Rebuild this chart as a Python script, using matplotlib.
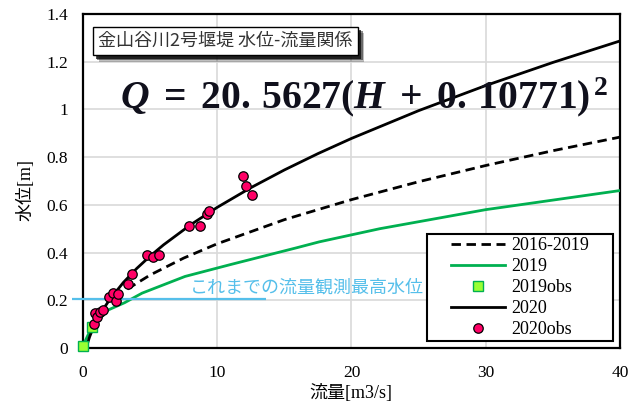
import numpy as np
import matplotlib
matplotlib.use("Agg")
import matplotlib.pyplot as plt
from matplotlib import patheffects as pe
from matplotlib.patches import Rectangle

# Rating-curve coefficients for 2020: Q = a (H + b)^2
coef_a = 20.5627
coef_b = 0.10771

# 2020 rating curve, sampled at these discharges [m3/s]
q_2020 = [0.2386, 0.3, 0.5, 0.75, 1.0, 1.5, 2.0, 3.0, 4.0, 5.0, 6.0, 8.0,
          10.0, 12.5, 15.0, 17.5, 20.0, 25.0, 30.0, 35.0, 40.0]

# 2016-2019 rating curve
q_1619 = [3.3, 5.0, 7.5, 10.0, 15.0, 20.0, 25.0, 30.0, 35.0, 40.0]
h_1619 = [0.247, 0.306, 0.377, 0.437, 0.538, 0.622, 0.697, 0.765, 0.827, 0.884]

# 2019 rating curve
q_2019 = [0.0, 0.67, 1.0, 1.9, 3.1, 4.4, 7.6, 11.0, 15.9, 17.6, 22.1, 30.0, 40.0]
h_2019 = [0.01, 0.09, 0.11, 0.16, 0.19, 0.23, 0.30, 0.35, 0.42, 0.445, 0.50, 0.58, 0.66]

# 2019 observations
q_obs19 = [0.0, 0.7]
h_obs19 = [0.01, 0.09]

# 2020 observations
q_obs20 = [0.80, 0.92, 1.02, 1.25, 1.50, 1.90, 2.25, 2.45, 2.60, 3.33, 3.67,
           4.74, 5.20, 5.67, 7.92, 8.71, 9.25, 9.40, 11.94, 12.11, 12.56]
h_obs20 = [0.100, 0.145, 0.130, 0.150, 0.160, 0.215, 0.230, 0.195, 0.225, 0.270, 0.310,
           0.390, 0.383, 0.388, 0.513, 0.513, 0.563, 0.573, 0.723, 0.680, 0.643]

# Highest water level observed so far
max_obs_level = 0.207
max_obs_label = "これまでの流量観測最高水位"

legend_labels = ["2016-2019", "2019", "2019obs", "2020", "2020obs"]
title_text = "金山谷川2号堰堤 水位-流量関係"

x_ticks = [0, 10, 20, 30, 40]
y_ticks = [0, 0.2, 0.4, 0.6, 0.8, 1.0, 1.2, 1.4]
y_tick_labels = ["0", "0.2", "0.4", "0.6", "0.8", "1", "1.2", "1.4"]

plt.rcParams["mathtext.fontset"] = "custom"
plt.rcParams["mathtext.rm"] = "Liberation Serif:bold"
plt.rcParams["mathtext.it"] = "Liberation Serif:bold:italic"
plt.rcParams["mathtext.bf"] = "Liberation Serif:bold"

serif_cjk = ["Liberation Serif", "Noto Sans CJK JP"]
sans_cjk = ["Noto Sans CJK JP", "DejaVu Sans"]

fig = plt.figure(figsize=(6.42, 4.05), dpi=100)
ax = fig.add_axes([0.1293, 0.1407, 0.8364, 0.8247])

h_2020 = np.sqrt(np.array(q_2020) / coef_a) - coef_b

green = "#00B050"
ax.plot(q_1619, h_1619, color="black", lw=2.0, ls=(0, (3.4, 2.0)),
        label=legend_labels[0], zorder=3)
ax.plot(q_2019, h_2019, color=green, lw=2.0, label=legend_labels[1], zorder=3)
ax.plot(q_obs19, h_obs19, ls="none", marker="s", ms=6.5, mfc="#99FF33",
        mec=green, mew=1.0, label=legend_labels[2], zorder=5, clip_on=False)
ax.plot(q_2020, h_2020, color="black", lw=2.0, label=legend_labels[3], zorder=3)
ax.plot(q_obs20, h_obs20, ls="none", marker="o", ms=6.8, mfc="#FF0066",
        mec="black", mew=0.9, label=legend_labels[4], zorder=6)

# Highest observed water level marker line and note
blue = "#55BFEA"
ax.hlines(max_obs_level, -0.85, 13.6, colors=blue, lw=1.6, zorder=4, clip_on=False)
ax.text(7.95, 0.252, max_obs_label, color=blue, fontsize=13, family=sans_cjk,
        ha="left", va="center", zorder=7)

ax.set_xlim(0, 40)
ax.set_ylim(0, 1.4)
ax.set_xticks(x_ticks)
ax.set_yticks(y_ticks)
ax.set_yticklabels(y_tick_labels)
ax.tick_params(length=0, labelsize=12.5)
ax.tick_params(axis="y", pad=11)
ax.tick_params(axis="x", pad=12)
for lab in ax.get_xticklabels() + ax.get_yticklabels():
    lab.set_family("Liberation Serif")
ax.grid(color="#D9D9D9", lw=1.2)
ax.set_axisbelow(True)
for s in ax.spines.values():
    s.set_linewidth(1.6)
    s.set_color("black")

# Legend: framed box with the entries centred inside it
leg_box = (0.6406, 0.021, 0.3464, 0.320)
ax.add_patch(Rectangle(leg_box[:2], leg_box[2], leg_box[3], transform=ax.transAxes,
                       fc="white", ec="black", lw=1.5, zorder=7))
leg = ax.legend(loc="center",
                bbox_to_anchor=(leg_box[0] + leg_box[2] / 2, leg_box[1] + leg_box[3] / 2),
                prop={"family": "Liberation Serif", "size": 13},
                frameon=False, handlelength=3.0, handletextpad=0.35,
                labelspacing=0.22, borderpad=0.0)
leg.set_zorder(8)

fig.text(25 / 642, 1 - 190 / 405, "水位[m]", rotation=90, ha="center", va="center",
         fontsize=13, family=serif_cjk)
fig.text(351 / 642, 1 - 393 / 405, "流量[m3/s]", ha="center", va="center",
         fontsize=13, family=serif_cjk)

# Title box with drop shadow
title = fig.text(98 / 642, 1 - 41 / 405, title_text, ha="left", va="center",
                 fontsize=13, family=sans_cjk, color="#333333",
                 bbox=dict(boxstyle="square,pad=0.3", fc="white", ec="black", lw=1.0))
title.get_bbox_patch().set_path_effects([
    pe.SimplePatchShadow(offset=(4.5, -4.5), shadow_rgbFace="black", alpha=0.25),
    pe.SimplePatchShadow(offset=(3.5, -3.5), shadow_rgbFace="black", alpha=0.45),
    pe.SimplePatchShadow(offset=(2.5, -2.5), shadow_rgbFace="black", alpha=0.7),
    pe.Normal(),
])

# Rating equation
fig.text(120 / 642, 1 - 108 / 405,
         r"$Q\;=\;%s(H\;+\;%s)^{\,2}$" % (f"{coef_a:.4f}".replace(".", ".\\,"),
                                         f"{coef_b:.5f}".replace(".", ".\\,")),
         ha="left", va="baseline", fontsize=28.5, color="#10101c")

fig.savefig("out.png", dpi=100)
